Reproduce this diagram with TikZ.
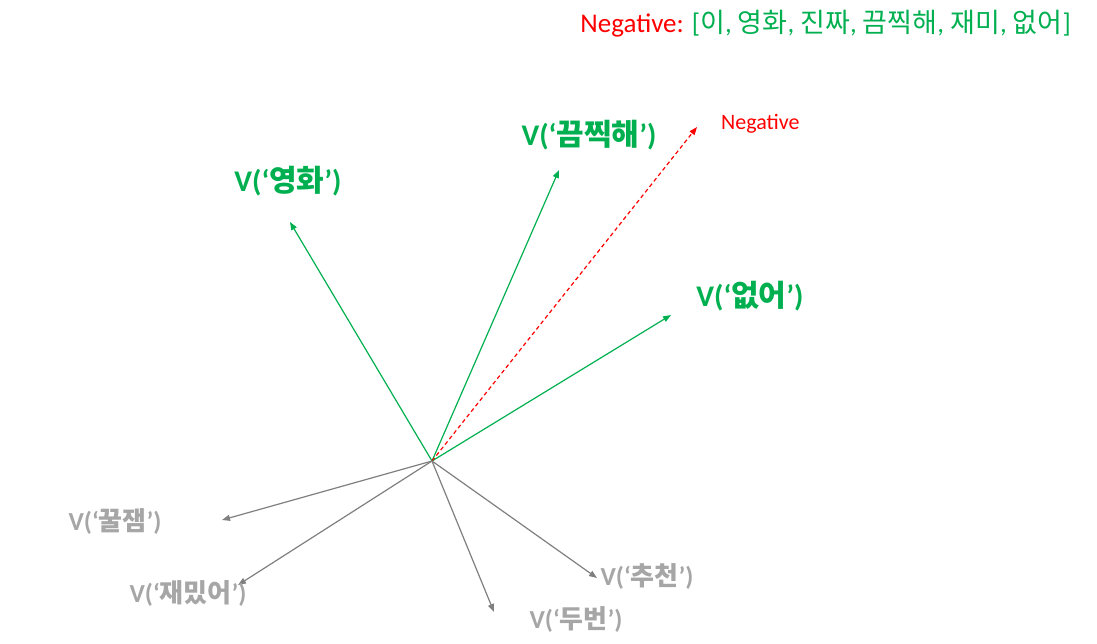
\documentclass[tikz,border=0pt]{standalone}
\usepackage{fontspec}
\setmainfont{Carlito}
\newfontfamily\krfont{Noto Sans CJK KR}
\usetikzlibrary{arrows.meta}
\newcommand\K[1]{{\krfont #1}}
\definecolor{vgreen}{HTML}{00B050}
\definecolor{vgray}{HTML}{7F7F7F}
\definecolor{lgray}{HTML}{A6A6A6}
\tikzset{
  garrow/.style={draw=vgreen, line width=1.2pt, -{Triangle[length=8pt,width=6pt]}},
  gyarrow/.style={draw=vgray, line width=1.2pt, -{Triangle[length=8pt,width=6pt]}},
  negarrow/.style={draw=red, line width=1.2pt, dashed, dash pattern=on 4pt off 3pt, -{Triangle[length=8pt,width=6pt]}},
  glabel/.style={text=vgreen, font=\fontsize{30}{34}\selectfont\bfseries, inner sep=0pt},
  gylabel/.style={text=lgray, font=\fontsize{26}{30}\selectfont\bfseries, inner sep=0pt},
}
\begin{document}
\begin{tikzpicture}[x=1pt,y=-1pt]
\useasboundingbox (0,0) rectangle (1097,644);
\coordinate (O) at (432,461);
\coordinate (tYH) at (290,222);
\coordinate (tKJ) at (559,170);
\coordinate (tNG) at (697,127);
\coordinate (tEO) at (671,315);
\coordinate (tKZ) at (222,520);
\coordinate (tJM) at (238,585);
\coordinate (tDB) at (494,612);
\coordinate (tCC) at (597,578);
\draw[garrow] (O) -- (tYH);
\draw[garrow] (O) -- (tKJ);
\draw[garrow] (O) -- (tEO);
\draw[negarrow] (O) -- (tNG);
\draw[gyarrow] (O) -- (tKZ);
\draw[gyarrow] (O) -- (tJM);
\draw[gyarrow] (O) -- (tDB);
\draw[gyarrow] (O) -- (tCC);
\node[glabel] (lYH) at (288,181) {V(‘\K{영화}’)};
\node[glabel] (lKJ) at (589,135) {V(‘\K{끔찍해}’)};
\node[glabel] (lEO) at (750,296) {V(‘\K{없어}’)};
\node[gylabel] (lKZ) at (115,522) {V(‘\K{꿀잼}’)};
\node[gylabel] (lJM) at (188,593) {V(‘\K{재밌어}’)};
\node[gylabel] (lDB) at (576,620) {V(‘\K{두번}’)};
\node[gylabel] (lCC) at (647,577) {V(‘\K{추천}’)};
\node[text=red, font=\fontsize{22}{26}\selectfont, inner sep=0pt, anchor=west] (neg) at (721,124) {Negative};
\node[font=\fontsize{27}{31}\selectfont, inner sep=0pt, anchor=east] (title) at (1071,24)
  {\textcolor{red}{Negative:} \textcolor{vgreen}{[\K{이}, \K{영화}, \K{진짜}, \K{끔찍해}, \K{재미}, \K{없어}]}};
\end{tikzpicture}
\end{document}
